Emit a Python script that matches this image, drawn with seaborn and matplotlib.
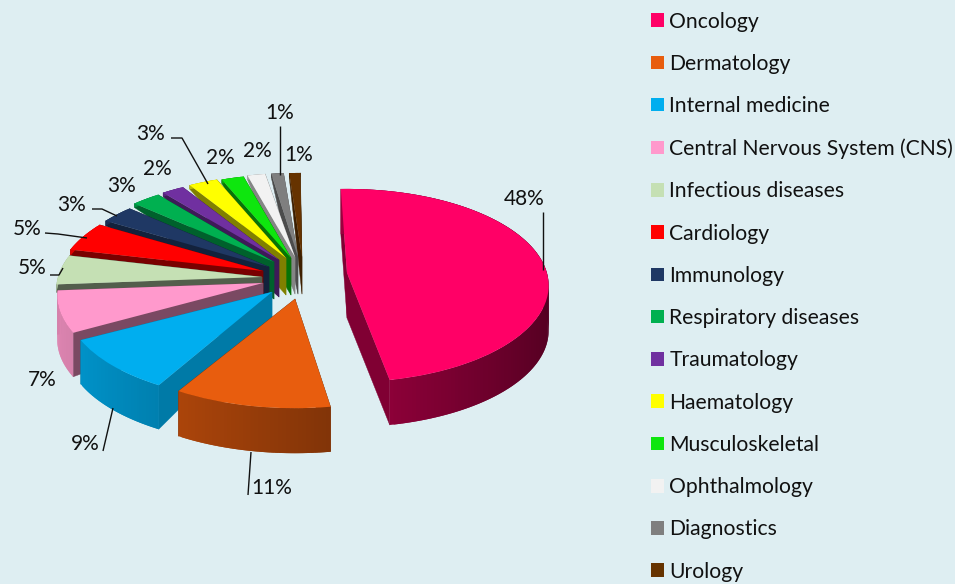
import numpy as np
import matplotlib
matplotlib.use("Agg")
import matplotlib.pyplot as plt
from matplotlib.collections import PolyCollection
from matplotlib.patches import Patch
from matplotlib.transforms import Transform
import seaborn as sns

categories = ["Oncology", "Dermatology", "Internal medicine", "Central Nervous System (CNS)",
              "Infectious diseases", "Cardiology", "Immunology", "Respiratory diseases",
              "Traumatology", "Haematology", "Musculoskeletal", "Ophthalmology",
              "Diagnostics", "Urology"]
shares = [48, 11, 9, 7, 5, 5, 3, 2.6, 2.0, 2.6, 2.0, 1.6, 1.1, 1.0]
colors = ["#ff0066", "#e85d0e", "#00aeef", "#ff99cc", "#c5e0b4", "#ff0000", "#1f3864",
          "#00b050", "#7030a0", "#ffff00", "#0ee60e", "#f2f2f2", "#7f7f7f", "#663300"]

# layout: where each exploded slice's tip sits, and how deep its walls appear
tips_x = [347, 295, 272, 263, 262, 263, 269, 274, 279, 286, 291, 295, 298, 302]
tips_y = [273, 299, 292, 283, 277, 271, 267, 262, 260, 258, 258, 257, 257, 257]
rim_depth = [45, 45, 44, 44, 8, 6, 5, 4, 4, 4, 4, 4, 4, 4]
tip_depth = [45, 45, 25, 25, 25, 30, 35, 37, 37, 37, 37, 37, 37, 37]
cut_shade = [.50, .50, .70, .48, .42, .48, .60, .55, .55, .50, .50, .55, .60, .60]
turn = [0, 2, 1, 0, 0, 0, 0, 0, 0, 0, 0, 0, 1, 1.5]
reach = [.98, 1, 1, 1, 1, 1, 1, 1, 1, 1, 1, 1, 1, 1]
label_xy = [(524, 199), (272, 488), (85, 444), (42, 380), (32, 268), (27, 229), (72, 205),
            (122, 186), (157, 169), (151, 134), (220, 158), (257, 151), (280, 113), (299, 155)]
leaders = [[(543, 212), (543, 270)], [(251, 452), (248, 495)], [(113, 408), (103, 451)], None,
           [(50, 275), (59, 275), (63, 268)], [(45, 233), (58, 234), (87, 238)],
           [(92, 209), (102, 209), (117, 216)], None, None,
           [(171, 138), (182, 138), (208, 184)], None, None, [(280, 126), (280, 175)], None]

BG = "#deeef2"
FONT = "Lato"
RX, RY, PERSP = 204.0, 95.0, 0.13

sns.set_theme(style="white", rc={"figure.facecolor": BG, "axes.facecolor": BG,
                                 "font.family": FONT, "text.color": "#111111"})
palette = sns.color_palette(colors)


def project(x, y, cx, cy, scale=1.0):
    w = 1 + PERSP * y
    return cx + scale * RX * x / w, cy - RY * y / w


class Tilted(Transform):
    input_dims = output_dims = 2
    is_separable = False

    def __init__(self, cx, cy, scale, turn_deg):
        super().__init__()
        self.cx, self.cy, self.scale = cx, cy, scale
        self.c, self.s = np.cos(np.radians(-turn_deg)), np.sin(np.radians(-turn_deg))

    def transform_non_affine(self, values):
        v = np.asarray(values, float)
        x = v[:, 0] * self.c - v[:, 1] * self.s
        y = v[:, 0] * self.s + v[:, 1] * self.c
        return np.column_stack(project(x, y, self.cx, self.cy, self.scale))


fig = plt.figure(figsize=(9.55, 5.84), dpi=100)
ax = fig.add_axes([0, 0, 1, 1])
wedges, _ = ax.pie(shares, colors=palette, startangle=92, counterclock=False,
                   radius=1, wedgeprops={"linewidth": 0})
ax.set_aspect("auto")
ax.set_xlim(0, 955)
ax.set_ylim(584, 0)
ax.set_axis_off()

n = len(shares)
for i, wedge in enumerate(wedges):
    z = 2 + 3 * (n - i)
    cx, cy = tips_x[i], tips_y[i]
    base = np.array(palette[i])
    wedge.set_transform(Tilted(cx, cy, reach[i], turn[i]) + ax.transData)
    wedge.set_zorder(z + 2)

    t = np.radians(np.linspace(wedge.theta1, wedge.theta2,
                               max(4, int(wedge.theta2 - wedge.theta1) + 2)) - turn[i])
    ux, uy = np.cos(t), np.sin(t)
    px, py = project(ux, uy, cx, cy, reach[i])
    d = rim_depth[i]
    strips, fills = [], []
    for j in range(len(t) - 1):
        e = min(j + 2, len(t) - 1)  # overlap the neighbour so no seams show
        strips.append([(px[j], py[j]), (px[e], py[e]), (px[e], py[e] + d), (px[j], py[j] + d)])
        shade = np.clip(0.60 - 0.27 * (ux[j] + ux[j + 1]) / 2, 0.3, 0.9)
        fills.append(base * shade)
    ax.add_collection(PolyCollection(strips, facecolors=fills, edgecolors="none",
                                     linewidths=0, zorder=z + 1))
    cuts = []
    for k in (0, -1):
        cuts.append([(cx, cy), (px[k], py[k]), (px[k], py[k] + d), (cx, cy + tip_depth[i])])
    face = base * cut_shade[i]
    ax.add_collection(PolyCollection(cuts, facecolors=[face], edgecolors=[face],
                                     linewidths=0.3, zorder=z))

for i, v in enumerate(shares):
    ax.text(*label_xy[i], f"{v:.0f}%", ha="center", va="center", fontsize=15, zorder=90)
    if leaders[i]:
        xs, ys = zip(*leaders[i])
        ax.plot(xs, ys, color="#111111", lw=1.0, zorder=91, solid_capstyle="butt")

handles = [Patch(facecolor=c, edgecolor="none", label=l) for c, l in zip(palette, categories)]
ax.legend(handles=handles, loc="upper left", bbox_to_anchor=(651 / 955, 1 - 11.5 / 584),
          frameon=False, fontsize=15.25, borderpad=0, borderaxespad=0,
          handlelength=0.613, handleheight=0.613, handletextpad=0.26,
          labelspacing=1.052, labelcolor="#111111")
fig.savefig("out.png", dpi=100, facecolor=BG)
